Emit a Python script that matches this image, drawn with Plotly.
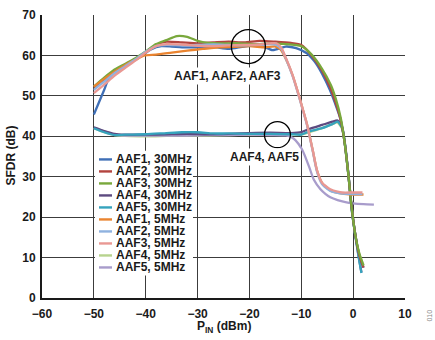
import plotly.graph_objects as go

# ---- measured SFDR vs input power ----
aaf1_30_x = [-50, -48, -46.7, -45, -43, -41, -39, -37, -35, -33, -30, -27, -24, -21, -18, -15.5, -13, -11, -9, -7.5, -6, -4.5, -3.5, -2.5, -1.7, -1.0, -0.3, 0.5, 1.2, 2]
aaf1_30_y = [45.4, 51.5, 55.5, 56.8, 58.2, 59.8, 61.5, 62.3, 62.2, 62.0, 62.0, 62.1, 61.6, 62.2, 62.5, 61.3, 62.2, 61.8, 60.6, 58.6, 55.5, 51.5, 48.2, 44.5, 39.0, 31.5, 22.5, 15.0, 10.5, 7.5]

aaf2_30_x = [-50, -48, -46, -44, -42, -40, -38, -36, -33, -30, -27, -24, -21, -18, -15, -12, -10, -8, -6, -4.5, -3.5, -2.5, -1.7, -1.0, -0.3, 0.5, 1.2, 2]
aaf2_30_y = [52.0, 54.0, 55.8, 57.5, 59.0, 60.8, 62.6, 63.4, 63.2, 63.0, 63.2, 63.4, 63.2, 63.6, 63.4, 63.1, 62.6, 60.0, 56.2, 52.3, 48.8, 44.5, 39.0, 31.5, 22.5, 15.0, 10.5, 7.5]

aaf3_30_x = [-50, -48, -46, -44, -42, -40, -38, -36, -34, -32, -30, -28, -25, -22, -19, -16, -13, -10, -8, -6, -4.3, -3.4, -2.4, -1.7, -1.0, -0.3, 0.5, 1.2, 2]
aaf3_30_y = [52.3, 54.5, 56.5, 57.9, 59.3, 61.0, 62.8, 63.8, 64.8, 64.6, 63.6, 63.1, 63.0, 63.0, 62.8, 62.9, 62.8, 62.3, 60.2, 56.7, 52.7, 49.5, 44.6, 39.0, 31.5, 22.5, 15.0, 11.0, 8.0]

aaf4_30_x = [-50, -48, -46, -44, -40, -36, -32, -28, -24, -20, -16, -12, -10, -8.5, -6, -4, -3, -2.1, -1.5, -0.8, -0.2, 0.5, 1.1, 1.6]
aaf4_30_y = [42.2, 41.3, 40.6, 40.4, 40.4, 40.5, 40.6, 40.5, 40.6, 40.8, 40.9, 40.8, 41.0, 41.8, 42.8, 43.6, 43.9, 42.2, 37.4, 29.3, 21.2, 15.0, 10.0, 6.3]

aaf5_30_x = [-50, -48, -46, -44, -40, -36, -33, -30, -27, -24, -20, -16, -12, -10, -8.5, -6, -4, -3, -2.1, -1.5, -0.8, -0.2, 0.5, 1.1, 1.6]
aaf5_30_y = [42.0, 41.0, 40.3, 40.4, 40.5, 40.8, 41.0, 41.0, 40.7, 40.7, 40.6, 40.6, 40.5, 40.4, 41.2, 42.0, 43.0, 43.6, 42.0, 37.2, 29.0, 21.0, 14.7, 9.8, 6.2]

aaf1_5_x = [-50, -48, -46, -44, -42, -40.2, -38, -35, -32, -29, -26, -23, -20, -17, -15, -14, -13, -11.7, -10.7, -9.8, -8.9, -7.8, -7, -6, -4.4, -2.1, 0, 2]
aaf1_5_y = [52.3, 54.2, 56.0, 57.6, 58.9, 60.0, 60.2, 60.7, 61.2, 61.6, 62.0, 62.1, 62.3, 62.0, 62.2, 61.5, 59.2, 55.2, 51.1, 47.1, 43.0, 36.6, 31.7, 28.5, 26.6, 25.8, 25.6, 25.6]

aaf2_5_x = [-50, -48, -46, -44, -42, -40, -38, -36, -33, -30, -27, -24, -21, -18, -16, -14.8, -13.8, -12.9, -11.7, -10.7, -9.8, -8.9, -7.8, -7, -6, -5, -4.4, -3, -2.1, 0, 1.8]
aaf2_5_y = [51.5, 53.5, 55.6, 57.3, 59.0, 60.9, 62.3, 62.6, 62.5, 62.6, 62.7, 62.6, 62.5, 62.6, 62.8, 62.6, 61.5, 59.0, 55.0, 50.9, 46.9, 42.8, 36.4, 31.4, 28.2, 27.0, 26.5, 26.0, 25.8, 25.7, 25.7]

aaf3_5_x = [-50, -48, -46, -44, -42, -40, -38, -36, -33, -30, -27, -24, -21, -18, -16, -14.8, -13.8, -12.9, -11.7, -10.7, -9.8, -8.9, -7.8, -7, -6, -5, -4.4, -3, -2.1, 0, 1.8]
aaf3_5_y = [50.7, 52.8, 55.0, 56.9, 58.7, 60.7, 62.3, 62.8, 62.7, 62.4, 62.3, 62.5, 62.6, 62.7, 63.0, 63.0, 61.8, 59.2, 55.2, 51.1, 47.1, 43.0, 36.6, 31.7, 28.5, 27.4, 26.9, 26.3, 26.1, 26.1, 26.1]

aaf4_5_x = [-50, -48, -46, -44, -40, -36, -32, -28, -24, -20, -16, -12, -10, -8.5, -6, -4, -3, -2.1, -1.5, -0.8, -0.2, 0.5, 1.2, 2]
aaf4_5_y = [42.0, 41.0, 40.3, 40.1, 40.0, 40.1, 40.2, 40.2, 40.3, 40.4, 40.5, 40.5, 40.4, 41.0, 42.0, 43.0, 43.4, 41.8, 37.0, 29.0, 21.5, 15.0, 10.8, 8.2]

aaf5_5_x = [-50, -48, -46, -44, -40, -36, -32, -28, -24, -20, -16, -13, -12, -11.1, -9.8, -8.5, -7.6, -6.3, -5.3, -4.4, -3, -1.5, 0, 2, 4]
aaf5_5_y = [42.1, 41.2, 40.4, 40.2, 40.2, 40.2, 40.2, 40.3, 40.3, 40.4, 40.3, 40.2, 39.8, 39.0, 36.6, 32.5, 29.3, 26.9, 25.7, 24.9, 24.2, 23.7, 23.4, 23.2, 23.1]

legend_names = ["AAF1, 30MHz", "AAF2, 30MHz", "AAF3, 30MHz", "AAF4, 30MHz", "AAF5, 30MHz",
                "AAF1, 5MHz", "AAF2, 5MHz", "AAF3, 5MHz", "AAF4, 5MHz", "AAF5, 5MHz"]
legend_colors = ["#3f6fb6", "#b3443f", "#79a83c", "#5d4a80", "#36a3bd",
                 "#ea8430", "#8fb2df", "#e99893", "#b7d38e", "#a89ccb"]

x_ticks = [-60, -50, -40, -30, -20, -10, 0, 10]
y_ticks = [0, 10, 20, 30, 40, 50, 60, 70]

series = {
    "AAF1, 30MHz": (aaf1_30_x, aaf1_30_y),
    "AAF2, 30MHz": (aaf2_30_x, aaf2_30_y),
    "AAF3, 30MHz": (aaf3_30_x, aaf3_30_y),
    "AAF4, 30MHz": (aaf4_30_x, aaf4_30_y),
    "AAF5, 30MHz": (aaf5_30_x, aaf5_30_y),
    "AAF1, 5MHz": (aaf1_5_x, aaf1_5_y),
    "AAF2, 5MHz": (aaf2_5_x, aaf2_5_y),
    "AAF3, 5MHz": (aaf3_5_x, aaf3_5_y),
    "AAF4, 5MHz": (aaf4_5_x, aaf4_5_y),
    "AAF5, 5MHz": (aaf5_5_x, aaf5_5_y),
}
color_of = dict(zip(legend_names, legend_colors))

# stacking order of the curves (last one on top)
draw_order = ["AAF4, 5MHz", "AAF5, 5MHz", "AAF4, 30MHz", "AAF5, 30MHz", "AAF1, 30MHz",
              "AAF2, 30MHz", "AAF3, 30MHz", "AAF1, 5MHz", "AAF2, 5MHz", "AAF3, 5MHz"]

FONT = "Arial, Liberation Sans, sans-serif"
INK = "#1a1a1a"
W, H = 435, 340
ML, MR, MT, MB = 42, 30, 8, 42
PW, PH = W - ML - MR, H - MT - MB


def px_x(px):
    return (px - ML) / PW


def px_y(py):
    return 1 - (py - MT) / PH


def tick_label(v):
    return "<b>" + str(v).replace("-", "\u2212") + "</b>"


fig = go.Figure()
for name in draw_order:
    xs, ys = series[name]
    fig.add_trace(go.Scatter(
        x=xs, y=ys, mode="lines", name=name, showlegend=False,
        line=dict(color=color_of[name], width=2.3, shape="spline", smoothing=0.6),
    ))

shapes = []
annotations = []

# white legend panel with hand-placed entries (tight row spacing)
shapes.append(dict(type="rect", xref="paper", yref="paper",
                   x0=px_x(95), x1=px_x(193), y0=px_y(275), y1=px_y(147),
                   fillcolor="white", line=dict(width=0), layer="above"))
row0, step = 156.0, 12.3
for i, (name, col) in enumerate(zip(legend_names, legend_colors)):
    yy = row0 + i * step
    shapes.append(dict(type="line", xref="paper", yref="paper",
                       x0=px_x(99), x1=px_x(112), y0=px_y(yy), y1=px_y(yy),
                       line=dict(color=col, width=2.4), layer="above"))
    annotations.append(dict(xref="paper", yref="paper", x=px_x(113.5), y=px_y(yy),
                            text=name, showarrow=False, xanchor="left", yanchor="middle",
                            font=dict(family=FONT, size=12, color=INK, weight="bold")))

# group callouts
shapes.append(dict(type="circle", xref="x", yref="y", xsizemode="pixel", ysizemode="pixel",
                   xanchor=-20.2, yanchor=62.2, x0=-17, x1=17, y0=-17, y1=17,
                   line=dict(color="black", width=1.3)))
shapes.append(dict(type="circle", xref="x", yref="y", xsizemode="pixel", ysizemode="pixel",
                   xanchor=-14.6, yanchor=40.4, x0=-13, x1=13, y0=-13, y1=13,
                   line=dict(color="black", width=1.3)))
annotations.append(dict(x=-24.3, y=55.0, xref="x", yref="y", text="AAF1, AAF2, AAF3",
                        showarrow=False, bgcolor="white", borderpad=1,
                        xanchor="center", yanchor="middle",
                        font=dict(family=FONT, size=12, color=INK, weight="bold")))
annotations.append(dict(x=-17.0, y=34.8, xref="x", yref="y", text="AAF4, AAF5",
                        showarrow=False, bgcolor="white", borderpad=1,
                        xanchor="center", yanchor="middle",
                        font=dict(family=FONT, size=12, color=INK, weight="bold")))

# axis titles
annotations.append(dict(xref="paper", yref="paper", x=px_x(11), y=px_y(152),
                        text="SFDR (dB)", textangle=-90, showarrow=False,
                        xanchor="center", yanchor="middle",
                        font=dict(family=FONT, size=12, color=INK, weight="bold")))
annotations.append(dict(xref="paper", yref="paper", x=px_x(224), y=px_y(328),
                        text="P<sub>IN</sub> (dBm)", showarrow=False,
                        xanchor="center", yanchor="middle",
                        font=dict(family=FONT, size=12, color=INK, weight="bold")))
annotations.append(dict(xref="paper", yref="paper", x=px_x(430), y=px_y(316),
                        text="010", textangle=-90, showarrow=False,
                        xanchor="center", yanchor="middle",
                        font=dict(family=FONT, size=7, color="#8a8a8a")))

axis_common = dict(
    showgrid=True, gridcolor="#3c3c3c", gridwidth=1.3,
    showline=True, linecolor=INK, linewidth=2, mirror=False,
    zeroline=False, ticks="",
    tickfont=dict(family=FONT, size=12, color=INK, weight="bold"),
)

fig.update_layout(
    width=W, height=H,
    margin=dict(l=ML, r=MR, t=MT, b=MB, pad=0),
    paper_bgcolor="white", plot_bgcolor="white",
    xaxis=dict(range=[-60, 10], tickvals=x_ticks, ticktext=[tick_label(v) for v in x_ticks],
               ticklabelstandoff=4, **axis_common),
    yaxis=dict(range=[0, 70], tickvals=y_ticks, ticktext=[tick_label(v) for v in y_ticks],
               ticklabelstandoff=2, **axis_common),
    shapes=shapes, annotations=annotations, showlegend=False,
)

fig.write_html("out.html")
